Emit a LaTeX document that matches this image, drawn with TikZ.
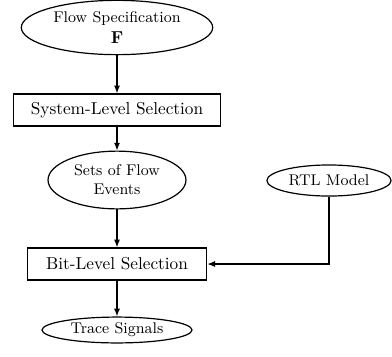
\documentclass[tikz,border=0pt]{standalone}
\usetikzlibrary{shapes.geometric,arrows.meta}
\begin{document}
\begin{tikzpicture}[x=0.58pt,y=-0.58pt,
  every node/.style={inner sep=0pt,line width=0.7pt},
  oval/.style={draw,ellipse,font=\small,align=center},
  stepbox/.style={draw,rectangle,font=\normalsize,minimum height=18.6pt},
  arr/.style={-{Latex[length=4.5pt,width=3.5pt]},line width=0.7pt}]
\useasboundingbox (0,0) rectangle (392,356);
\node[oval,minimum width=111pt,minimum height=31.5pt] (spec) at (117,27.5) {Flow Specification\\[1pt]\normalsize\textbf{F}};
\node[stepbox,minimum width=120pt] (sys) at (117,110) {System-Level Selection};
\node[oval,minimum width=80pt,minimum height=33.5pt] (sets) at (117,180) {Sets of Flow\\Events};
\node[oval,minimum width=72pt,minimum height=18pt] (rtl) at (329,180.5) {RTL Model};
\node[stepbox,minimum width=104pt] (bit) at (117,264) {Bit-Level Selection};
\node[oval,minimum width=87pt,minimum height=15pt] (trace) at (117,330) {Trace Signals};
\draw[arr] (spec) -- (sys);
\draw[arr] (sys) -- (sets);
\draw[arr] (sets) -- (bit);
\draw[arr] (bit) -- (trace);
\draw[arr] (rtl.south) |- (bit.east);
\end{tikzpicture}
\end{document}
